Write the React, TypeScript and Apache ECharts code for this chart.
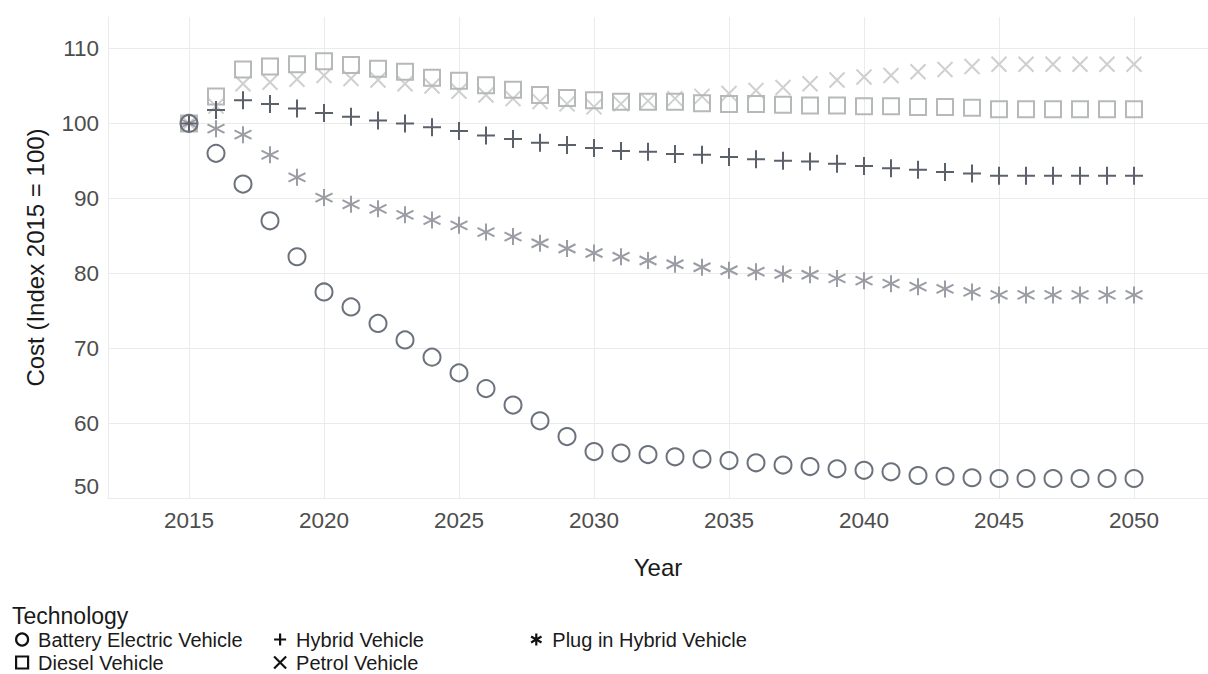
import React, { useEffect, useRef } from "react";
import * as echarts from "echarts";

const years = [
  2015, 2016, 2017, 2018, 2019, 2020, 2021, 2022, 2023, 2024,
  2025, 2026, 2027, 2028, 2029, 2030, 2031, 2032, 2033, 2034,
  2035, 2036, 2037, 2038, 2039, 2040, 2041, 2042, 2043, 2044,
  2045, 2046, 2047, 2048, 2049, 2050,
];

const batteryElectric = [
  100, 96.0, 91.9, 87.0, 82.2, 77.5, 75.5, 73.3, 71.1, 68.8,
  66.7, 64.6, 62.4, 60.3, 58.2, 56.2, 56.0, 55.8, 55.5, 55.2,
  55.0, 54.7, 54.4, 54.2, 53.9, 53.7, 53.5, 53.0, 52.9, 52.7,
  52.6, 52.6, 52.6, 52.6, 52.6, 52.6,
];

const hybrid = [
  100, 101.8, 103.1, 102.6, 102.0, 101.4, 100.9, 100.4, 100.0, 99.5,
  99.0, 98.4, 97.9, 97.4, 97.1, 96.7, 96.3, 96.2, 95.9, 95.8,
  95.5, 95.2, 95.0, 94.9, 94.6, 94.3, 94.0, 93.8, 93.5, 93.3,
  93.0, 93.0, 93.0, 93.0, 93.0, 93.0,
];

const plugInHybrid = [
  100, 99.3, 98.5, 95.8, 92.8, 90.1, 89.2, 88.6, 87.8, 87.1,
  86.4, 85.5, 84.9, 84.0, 83.3, 82.7, 82.2, 81.7, 81.2, 80.8,
  80.4, 80.2, 79.9, 79.8, 79.3, 79.0, 78.6, 78.2, 77.9, 77.5,
  77.1, 77.1, 77.1, 77.1, 77.1, 77.1,
];

const diesel = [
  100, 103.6, 107.2, 107.6, 107.9, 108.3, 107.8, 107.3, 106.9, 106.1,
  105.7, 105.1, 104.5, 103.8, 103.4, 103.1, 102.9, 102.9, 102.9, 102.7,
  102.6, 102.6, 102.5, 102.4, 102.4, 102.3, 102.3, 102.2, 102.2, 102.1,
  101.9, 101.9, 101.9, 101.9, 101.9, 101.9,
];

const petrol = [
  100, 102.3, 105.3, 105.5, 105.9, 106.4, 106.0, 105.8, 105.3, 105.0,
  104.3, 103.8, 103.3, 102.9, 102.6, 102.2, 102.6, 103.0, 103.3, 103.6,
  104.0, 104.4, 104.8, 105.3, 105.8, 106.2, 106.4, 106.9, 107.2, 107.6,
  107.9, 107.9, 107.9, 107.9, 107.9, 107.9,
];

const xTicks = [2015, 2020, 2025, 2030, 2035, 2040, 2045, 2050];
const yTicks = [50, 60, 70, 80, 90, 100, 110];

const PLUS = "path://M5,0L5,10M0,5L10,5";
const CROSS = "path://M0,0L10,10M10,0L0,10";
const STAR = "path://M5,0L5,10M0.67,2.5L9.33,7.5M0.67,7.5L9.33,2.5";
const SQUARE = "path://M0,0L10,0L10,10L0,10Z";

const FONT = "'Liberation Sans', Arial, sans-serif";
const GRID = "#ebebeb";

function makeSeries(name: string, values: number[], symbol: string, size: number, color: string) {
  return {
    type: "scatter",
    name,
    data: years.map((y, i) => [y, values[i]]),
    symbol,
    symbolSize: size,
    silent: true,
    emphasis: { disabled: true },
    itemStyle: { color: "rgba(0,0,0,0)", borderColor: color, borderWidth: 2, opacity: 1 },
  };
}

export default function App() {
  const ref = useRef<HTMLDivElement>(null);
  useEffect(() => {
    if (!ref.current) return;
    const chart = echarts.init(ref.current, null, { renderer: "svg" });
    const legendCommon = {
      orient: "vertical",
      top: 629,
      padding: 0,
      itemGap: 2,
      itemWidth: 22,
      itemHeight: 12,
      selectedMode: false,
      textStyle: { fontSize: 20, color: "#1a1a1a", fontFamily: FONT, lineHeight: 21 },
      itemStyle: { color: "rgba(0,0,0,0)", borderColor: "#111", borderWidth: 2.2 },
    };
    chart.setOption({
      animation: false,
      backgroundColor: "#ffffff",
      textStyle: { fontFamily: FONT },
      grid: { left: 108, right: 0, top: 17, bottom: 176, containLabel: false },
      xAxis: {
        type: "value",
        min: 2012,
        max: 2052.74,
        name: "Year",
        nameLocation: "middle",
        nameGap: 57,
        nameTextStyle: { fontSize: 24, color: "#1a1a1a", fontFamily: FONT },
        axisLine: { show: true, lineStyle: { color: GRID, width: 1 } },
        axisTick: { show: false, customValues: xTicks },
        axisLabel: {
          customValues: xTicks,
          formatter: (v: number) => String(v),
          fontSize: 22.5,
          color: "#4d4d4d",
          margin: 11,
          fontFamily: FONT,
        },
        splitLine: { show: true, lineStyle: { color: GRID, width: 1 } },
      },
      yAxis: {
        type: "value",
        min: 50,
        max: 114.2,
        name: "Cost (Index 2015 = 100)",
        nameLocation: "middle",
        nameGap: 61,
        nameTextStyle: { fontSize: 24, color: "#1a1a1a", fontFamily: FONT },
        axisLine: { show: true, lineStyle: { color: GRID, width: 1 } },
        axisTick: { show: false, customValues: yTicks },
        axisLabel: {
          customValues: yTicks,
          formatter: (v: number) => String(v),
          fontSize: 22.5,
          color: "#4d4d4d",
          margin: 9,
          fontFamily: FONT,
          verticalAlignMinLabel: "bottom",
        },
        splitLine: { show: true, lineStyle: { color: GRID, width: 1 } },
      },
      legend: [
        {
          ...legendCommon,
          left: 15,
          data: [
            { name: "Battery Electric Vehicle", icon: "circle" },
            { name: "Diesel Vehicle", icon: SQUARE },
          ],
        },
        {
          ...legendCommon,
          left: 273,
          data: [
            { name: "Hybrid Vehicle", icon: PLUS },
            { name: "Petrol Vehicle", icon: CROSS },
          ],
        },
        {
          ...legendCommon,
          left: 530,
          data: [{ name: "Plug in Hybrid Vehicle", icon: STAR }],
        },
      ],
      graphic: [
        {
          type: "text",
          left: 12,
          top: 604,
          style: { text: "Technology", fontSize: 23, fill: "#1a1a1a", fontFamily: FONT },
        },
      ],
      series: [
        makeSeries("Petrol Vehicle", petrol, CROSS, 15, "#cfcfcf"),
        makeSeries("Diesel Vehicle", diesel, SQUARE, 16, "#b5b9b9"),
        makeSeries("Plug in Hybrid Vehicle", plugInHybrid, STAR, 17, "#9b9da4"),
        makeSeries("Hybrid Vehicle", hybrid, PLUS, 18, "#5c606b"),
        makeSeries("Battery Electric Vehicle", batteryElectric, "circle", 17, "#6c727d"),
      ],
    });
    return () => chart.dispose();
  }, []);
  return (
    <div
      ref={ref}
      style={{ position: "fixed", left: 0, top: 0, width: 1208, height: 674 }}
    />
  );
}
